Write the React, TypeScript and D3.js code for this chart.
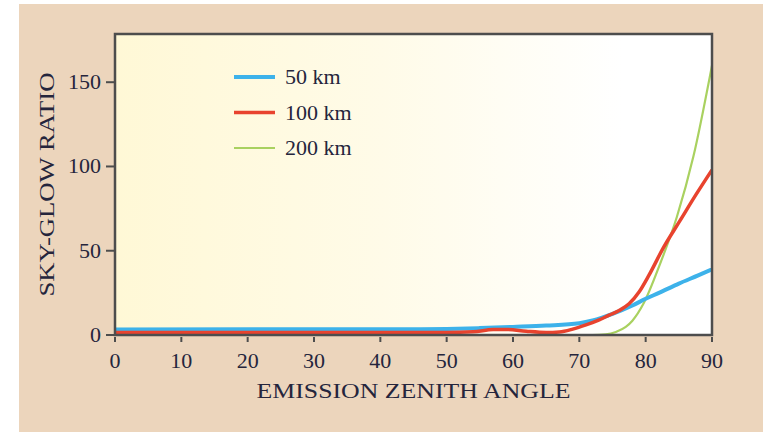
import React from "react";
import * as d3 from "d3";

type Pt = [number, number];

const xTicks = [0, 10, 20, 30, 40, 50, 60, 70, 80, 90];
const yTicks = [0, 50, 100, 150];

const series50: Pt[] = [
  [0, 3.3], [45, 3.4], [50, 3.6], [55, 4.1], [60, 4.8], [65, 5.6], [70, 7], [72, 8.6],
  [75, 12.5], [78, 17.5], [80, 21.5], [82, 25], [85, 30.5], [88, 35.5], [90, 39],
];
const series100: Pt[] = [
  [0, 1.5], [50, 1.5], [54, 1.9], [57, 3.2], [59, 3.3], [62, 2.2], [65, 1.5], [67, 1.8],
  [69, 3.5], [71, 6], [73, 9], [74.5, 11.8], [76, 14.5], [77.5, 18.5], [79, 25.5], [80.5, 35.5],
  [82.7, 52], [85.2, 68], [87.7, 84], [90, 98],
];
const series200: Pt[] = [
  [0, 0], [72, 0], [74, 0.4], [75.5, 1.8], [77, 4.8], [78, 8.5], [79.7, 18.8], [82.2, 42.5],
  [84.7, 70], [87.2, 106], [90, 160],
];

const seriesNames = ["50 km", "100 km", "200 km"];
const seriesColors = ["#3db2ea", "#e8432e", "#a9d160"];
const seriesWidths = [4, 3.5, 2.2];
const seriesData = [series50, series100, series200];

const W = 769;
const H = 439;
const left = 115;
const right = 712;
const top = 34;
const bottom = 335;
const FONT = "'Liberation Serif', 'Times New Roman', serif";
const TEXT = "#25253c";

export default function App() {
  const x = d3.scaleLinear().domain([0, 90]).range([left, right]);
  const y = d3.scaleLinear().domain([0, 178.6]).range([bottom, top]);
  const line = d3
    .line<Pt>()
    .x((d) => x(d[0]))
    .y((d) => y(d[1]))
    .curve(d3.curveMonotoneX);

  return (
    <svg
      width={W}
      height={H}
      style={{ position: "absolute", left: 0, top: 0, background: "#fff" }}
    >
      <defs>
        <linearGradient id="bg" x1="0" x2="1" y1="0" y2="0">
          <stop offset="0" stopColor="#fff8d6" />
          <stop offset="0.45" stopColor="#fffbe8" />
          <stop offset="0.85" stopColor="#ffffff" />
          <stop offset="1" stopColor="#ffffff" />
        </linearGradient>
        <clipPath id="clip">
          <rect x={left} y={top} width={right - left} height={bottom - top + 3} />
        </clipPath>
      </defs>
      <rect x={19} y={4} width={744} height={428} fill="#ecd5bc" />
      <rect x={left} y={top} width={right - left} height={bottom - top} fill="url(#bg)" />

      <g clipPath="url(#clip)">
        {[2, 0, 1].map((i) => (
          <path
            key={i}
            d={line(seriesData[i]) || ""}
            fill="none"
            stroke={seriesColors[i]}
            strokeWidth={seriesWidths[i]}
            strokeLinejoin="round"
          />
        ))}
      </g>

      <rect
        x={left}
        y={top}
        width={right - left}
        height={bottom - top}
        fill="none"
        stroke="#4d4d4d"
        strokeWidth={2.5}
      />

      {yTicks.map((t) => (
        <g key={"y" + t}>
          <line x1={left - 9} x2={left} y1={y(t)} y2={y(t)} stroke="#4d4d4d" strokeWidth={2} />
          <text
            x={101}
            y={y(t) + 7}
            textAnchor="end"
            fontFamily={FONT}
            fontSize={22}
            fill={TEXT}
          >
            {t}
          </text>
        </g>
      ))}
      {xTicks.map((t) => (
        <g key={"x" + t}>
          <line x1={x(t)} x2={x(t)} y1={bottom + 2} y2={bottom + 7} stroke="#4d4d4d" strokeWidth={2} />
          <text
            x={x(t)}
            y={368}
            textAnchor="middle"
            fontFamily={FONT}
            fontSize={22}
            fill={TEXT}
          >
            {t}
          </text>
        </g>
      ))}

      <text
        x={(left + right) / 2}
        y={398}
        textAnchor="middle"
        fontFamily={FONT}
        fontSize={22}
        fill={TEXT}
        textLength={314}
        lengthAdjust="spacingAndGlyphs"
      >
        EMISSION ZENITH ANGLE
      </text>
      <text
        transform={`translate(54, ${(top + bottom) / 2}) rotate(-90)`}
        textAnchor="middle"
        fontFamily={FONT}
        fontSize={22}
        fill={TEXT}
        textLength={224}
        lengthAdjust="spacingAndGlyphs"
      >
        SKY-GLOW RATIO
      </text>

      {seriesNames.map((name, i) => {
        const ly = 77 + i * 35.5;
        return (
          <g key={name}>
            <line
              x1={234}
              x2={275}
              y1={ly}
              y2={ly}
              stroke={seriesColors[i]}
              strokeWidth={seriesWidths[i]}
            />
            <text x={285} y={ly + 7} fontFamily={FONT} fontSize={22} fill={TEXT}>
              {name}
            </text>
          </g>
        );
      })}
    </svg>
  );
}
